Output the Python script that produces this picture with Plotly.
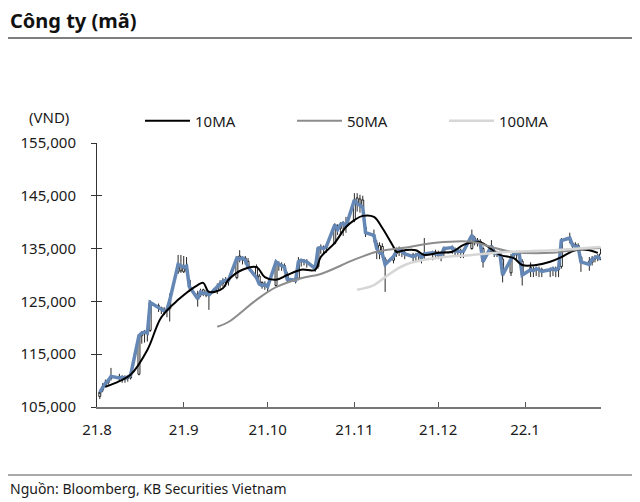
import pandas as pd
import plotly.graph_objects as go

# ---------------- data (thousand VND) ----------------
dates = pd.bdate_range("2021-08-02", "2022-01-28")

opens_k = [
    107.0, 108.2, 109.0, 109.6, 110.4, 110.8, 110.4, 110.6, 110.4, 110.5,
    111.2, 118.5, 119.0, 119.2, 119.5, 124.2, 123.8, 123.5, 123.2, 123.6,
    130.6, 130.8,
    130.6, 130.8, 129.0, 126.4, 126.2, 127.2, 126.2, 126.8, 127.0, 128.0,
    128.4, 128.6, 129.2, 129.5, 133.6, 133.0, 133.2, 132.6, 131.6, 129.8,
    128.6, 128.4,
    128.0, 128.0, 132.2, 132.0, 131.8, 130.2, 129.4, 129.4, 132.6, 132.8,
    132.6, 132.0, 131.6, 135.4, 135.2, 135.2, 136.0, 139.2, 138.8, 139.6,
    139.6,
    140.4, 144.6, 144.4, 144.2, 139.0, 137.2, 136.0, 135.6, 135.4, 133.0,
    132.8, 134.0, 134.4, 134.6, 134.2, 133.8, 133.6, 133.8, 133.6, 133.6,
    134.0, 134.4,
    133.6, 134.0, 134.2, 135.0, 134.8, 134.6, 134.6, 134.4, 135.0, 137.0,
    136.6, 136.4, 135.0, 134.4, 134.6, 134.2, 134.2, 133.0, 130.4, 133.6,
    134.0, 134.2, 132.6,
    131.4, 131.0, 131.0, 131.2, 131.0, 130.8, 131.0, 131.2, 131.0, 131.6,
    136.6, 136.0, 135.8, 135.6, 133.4, 132.6, 132.4, 133.0, 133.4, 134.0,
]
highs_k = [
    108.0, 109.5, 110.2, 110.4, 112.4, 111.3, 111.0, 111.0, 111.0, 111.6,
    118.8, 119.4, 119.6, 119.6, 125.2, 124.6, 124.0, 123.9, 123.8, 126.5,
    133.8, 133.8,
    133.6, 133.4, 129.4, 127.0, 127.4, 127.4, 127.2, 127.0, 128.4, 129.0,
    129.4, 129.6, 129.6, 133.6, 134.7, 133.6, 133.6, 133.2, 132.0, 130.2,
    128.8, 128.8,
    128.6, 132.8, 132.6, 132.4, 132.2, 130.6, 129.8, 133.4, 133.0, 133.0,
    133.0, 132.2, 135.4, 135.8, 135.6, 135.8, 139.8, 139.6, 140.0, 140.2,
    141.0,
    145.5, 145.5, 145.2, 145.0, 139.6, 138.6, 136.6, 136.2, 136.0, 133.4,
    134.0, 135.2, 135.4, 135.0, 134.6, 134.2, 134.2, 134.4, 134.0, 137.0,
    134.6, 134.8,
    134.6, 134.4, 135.4, 135.6, 135.2, 135.0, 135.0, 135.0, 138.6, 137.4,
    137.0, 136.8, 135.4, 136.6, 135.0, 134.6, 134.6, 133.4, 134.0, 134.4,
    134.6, 134.6, 133.0,
    132.4, 131.6, 131.6, 131.6, 131.4, 131.4, 131.6, 131.6, 131.6, 137.0,
    138.0, 136.4, 136.2, 136.0, 133.6, 133.4, 133.6, 133.8, 134.0, 135.0,
]
lows_k = [
    106.5, 107.8, 108.7, 109.2, 110.0, 109.8, 109.6, 109.6, 109.8, 110.2,
    111.0, 117.0, 117.2, 117.4, 119.2, 123.0, 122.6, 122.4, 122.0, 121.2,
    130.2, 130.4,
    130.4, 130.4, 126.8, 124.0, 125.8, 126.0, 125.8, 123.4, 126.4, 127.4,
    127.8, 127.8, 128.0, 129.2, 132.4, 132.0, 132.0, 131.2, 129.2, 128.2,
    127.4, 127.2,
    126.8, 127.8, 130.8, 130.8, 130.6, 128.6, 128.4, 129.0, 131.6, 131.8,
    131.4, 130.6, 131.2, 134.0, 134.0, 134.2, 135.8, 137.6, 137.6, 137.4,
    138.0,
    140.0, 142.0, 141.8, 141.6, 137.2, 136.2, 133.0, 133.0, 133.2, 126.8,
    132.2, 133.4, 133.6, 133.4, 133.0, 132.4, 132.6, 132.6, 132.2, 133.0,
    132.8, 133.0,
    133.0, 132.6, 133.6, 134.0, 133.6, 133.4, 133.2, 133.2, 134.8, 135.6,
    135.4, 135.4, 131.4, 134.0, 133.4, 133.4, 133.4, 128.6, 129.8, 133.0,
    133.0, 133.0, 128.0,
    129.6, 129.6, 129.8, 129.6, 129.6, 129.6, 129.8, 129.6, 129.6, 131.2,
    136.0, 134.8, 135.0, 134.8, 130.6, 130.8, 131.8, 132.4, 132.6, 132.8,
]
closes_k = [
    107.8, 108.8, 109.5, 110.0, 110.8, 110.5, 110.6, 110.4, 110.7, 111.0,
    118.5, 119.0, 119.2, 119.0, 124.8, 123.8, 123.5, 123.2, 123.4, 125.2,
    132.0, 131.8,
    131.5, 131.7, 127.8, 125.5, 126.8, 126.5, 126.6, 126.2, 127.8, 128.5,
    128.8, 129.0, 129.0, 133.2, 133.0, 133.2, 132.8, 131.5, 129.5, 128.3,
    128.0, 128.2,
    127.8, 132.5, 132.0, 131.8, 131.5, 129.2, 129.0, 132.5, 132.8, 132.6,
    132.5, 131.2, 135.0, 135.2, 135.0, 135.4, 139.5, 138.6, 139.5, 139.8,
    139.2,
    144.2, 143.5, 143.2, 142.8, 138.0, 137.5, 135.0, 134.2, 134.0, 132.0,
    133.5, 134.5, 134.8, 134.3, 134.0, 133.5, 133.8, 134.0, 133.2, 134.0,
    134.2, 134.0,
    134.0, 133.8, 135.0, 135.2, 134.5, 134.6, 134.4, 134.5, 137.5, 136.5,
    136.3, 136.0, 132.5, 135.5, 134.2, 134.0, 134.1, 130.0, 133.0, 134.0,
    134.2, 133.8, 130.0,
    131.0, 130.8, 131.2, 131.0, 130.7, 131.0, 131.2, 130.9, 131.3, 136.5,
    137.0, 135.6, 135.5, 135.3, 132.5, 132.0, 133.0, 133.2, 133.5, 133.0,
]

ma10_dates = ["2021-08-04", "2021-08-09", "2021-08-13", "2021-08-19", "2021-08-24",
              "2021-08-30", "2021-09-06", "2021-09-08", "2021-09-10", "2021-09-15",
              "2021-09-17", "2021-09-22", "2021-09-27", "2021-09-30", "2021-10-04",
              "2021-10-08", "2021-10-13", "2021-10-18", "2021-10-20", "2021-10-25",
              "2021-10-29", "2021-11-01", "2021-11-04", "2021-11-08", "2021-11-11",
              "2021-11-15", "2021-11-16", "2021-11-19", "2021-11-23", "2021-11-26",
              "2021-12-01", "2021-12-06", "2021-12-10", "2021-12-15", "2021-12-17",
              "2021-12-23", "2021-12-28", "2021-12-31", "2022-01-05", "2022-01-10",
              "2022-01-14", "2022-01-19", "2022-01-24", "2022-01-27"]
ma10_k = [108.8, 109.9, 111.1, 115.8, 122.0, 125.3, 128.1, 128.5, 126.8, 127.5,
          129.1, 131.0, 131.5, 129.6, 129.1, 130.0, 131.0, 131.0, 133.4, 136.1,
          139.1, 140.4, 141.2, 141.0, 138.9, 135.3, 134.4, 134.7, 134.7, 133.8,
          134.2, 134.4, 135.7, 136.3, 136.0, 133.8, 133.2, 131.9, 131.9, 132.5,
          133.4, 134.7, 134.7, 134.2]

ma50_dates = ["2021-09-13", "2021-09-17", "2021-09-27", "2021-10-04", "2021-10-13",
              "2021-10-20", "2021-11-01", "2021-11-09", "2021-11-18", "2021-11-30",
              "2021-12-13", "2021-12-20", "2021-12-27", "2022-01-11", "2022-01-18",
              "2022-01-28"]
ma50_k = [120.2, 121.1, 125.3, 127.7, 129.4, 130.2, 132.9, 134.4, 135.1, 136.1,
          136.3, 135.3, 134.4, 134.2, 134.7, 135.1]

ma100_dates = ["2021-11-02", "2021-11-08", "2021-11-12", "2021-11-19", "2021-11-30",
               "2021-12-13", "2021-12-27", "2022-01-11", "2022-01-28"]
ma100_k = [127.2, 128.1, 129.6, 131.9, 133.2, 133.8, 134.4, 134.7, 135.3]

tick_dates = ["2021-08-01", "2021-09-01", "2021-10-01", "2021-11-01", "2021-12-01", "2022-01-01"]
tick_text = ["21.8", "21.9", "21.10", "21.11", "21.12", "22.1"]
y_ticks = [105000, 115000, 125000, 135000, 145000, 155000]

k = 1000
opens = [v * k for v in opens_k]
highs = [v * k for v in highs_k]
lows = [v * k for v in lows_k]
closes = [v * k for v in closes_k]

FONT = "Noto Sans"
BLUE = "#6487b5"

fig = go.Figure()

fig.add_trace(go.Scatter(x=dates, y=closes, mode="lines",
                         line=dict(color=BLUE, width=3.5), showlegend=False,
                         hoverinfo="skip"))
fig.add_trace(go.Candlestick(
    x=dates, open=opens, high=highs, low=lows, close=closes,
    increasing=dict(line=dict(color="#111111", width=0.9), fillcolor="white"),
    decreasing=dict(line=dict(color="#111111", width=0.9), fillcolor="white"),
    showlegend=False, whiskerwidth=0))
fig.add_trace(go.Scatter(x=ma10_dates, y=[v * k for v in ma10_k], mode="lines",
                         name="10MA", line=dict(color="#000000", width=2, shape="spline")))
fig.add_trace(go.Scatter(x=ma50_dates, y=[v * k for v in ma50_k], mode="lines",
                         name="50MA", line=dict(color="#8c8c8c", width=2, shape="spline")))
fig.add_trace(go.Scatter(x=ma100_dates, y=[v * k for v in ma100_k], mode="lines",
                         name="100MA", line=dict(color="#d6d6d6", width=2.5, shape="spline")))

# overlay axis only for the inner half of crossing y-ticks
fig.add_trace(go.Scatter(x=[dates[0]], y=[closes[0]], yaxis="y2", mode="markers",
                         marker=dict(opacity=0), showlegend=False, hoverinfo="skip"))

# page body has an 8px margin: figure is laid out in page pixels minus 8
OFF = 8
W, H = 640 - OFF, 502 - OFF
L = 97 - OFF
T = 143 - OFF
R = W - (601 - OFF)
B = H - (407 - OFF)
pw, ph = W - L - R, H - T - B


def px(xs):
    return (xs - OFF - L) / pw


def py(ys):
    return (H - B - (ys - OFF)) / ph


fig.update_layout(
    width=W, height=H, autosize=False,
    margin=dict(l=L, r=R, t=T, b=B, pad=0),
    paper_bgcolor="white", plot_bgcolor="white",
    font=dict(family=FONT, size=15, color="#1a1a1a"),
    title=dict(text="<b>Công ty (mã)</b>", x=(10 - OFF) / W, xanchor="left", xref="container",
               y=1 - (21 - OFF) / H, yanchor="middle", yref="container",
               font=dict(family=FONT, size=20, color="#111111")),
    showlegend=True,
    boxgap=0,
    legend=dict(orientation="h", x=px(140), xanchor="left", y=py(121), yanchor="middle",
                font=dict(family=FONT, size=15, color="#1a1a1a"),
                bgcolor="rgba(0,0,0,0)", itemwidth=45,
                entrywidth=92, entrywidthmode="pixels", traceorder="normal"),
    xaxis=dict(type="date", range=["2021-08-01", "2022-01-28 04:00"],
               tickvals=tick_dates, ticktext=tick_text,
               ticks="inside", ticklen=5, tickcolor="#555555",
               showline=True, linecolor="#777777", linewidth=1.5,
               showgrid=False, zeroline=False, rangeslider=dict(visible=False),
               tickfont=dict(family=FONT, size=15, color="#1a1a1a"),
               ticklabelstandoff=8),
    yaxis=dict(range=[105000, 155000], tickvals=y_ticks, tickformat=",",
               ticks="outside", ticklen=5, tickcolor="#333333",
               showline=True, linecolor="#333333", linewidth=1,
               showgrid=False, zeroline=False,
               tickfont=dict(family=FONT, size=15, color="#1a1a1a"),
               ticklabelstandoff=12),
    yaxis2=dict(range=[105000, 155000], overlaying="y", side="left",
                tickvals=y_ticks, ticks="inside", ticklen=5, tickcolor="#333333",
                showticklabels=False, showline=False, showgrid=False, zeroline=False),
    shapes=[
        dict(type="line", xref="paper", yref="paper", x0=px(8), x1=px(632),
             y0=py(38), y1=py(38), line=dict(color="#555555", width=1.5)),
        dict(type="line", xref="paper", yref="paper", x0=px(8), x1=px(632),
             y0=py(475), y1=py(475), line=dict(color="#555555", width=1.2)),
    ],
    annotations=[
        dict(text="(VND)", xref="paper", yref="paper", x=px(49), y=py(117),
             xanchor="center", yanchor="middle", showarrow=False,
             font=dict(family=FONT, size=15, color="#1a1a1a")),
        dict(text="Nguồn: Bloomberg, KB Securities Vietnam", xref="paper", yref="paper",
             x=px(8), y=py(488), xanchor="left", yanchor="middle", showarrow=False,
             font=dict(family=FONT, size=14, color="#1a1a1a")),
    ],
)

fig.write_html("out.html")
